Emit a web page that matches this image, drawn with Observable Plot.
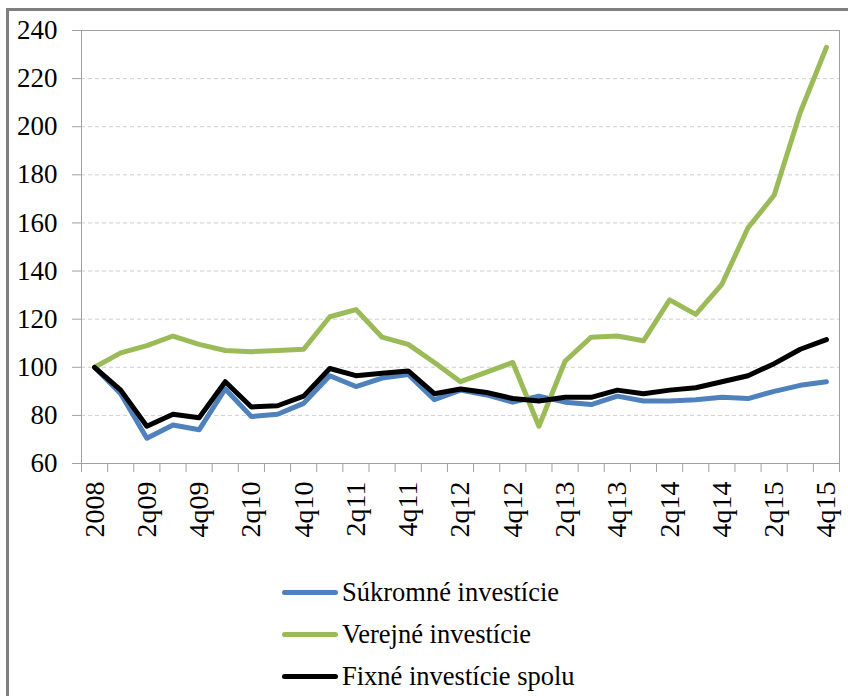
<!DOCTYPE html>
<html>
<head>
<meta charset="utf-8">
<script src="https://cdn.jsdelivr.net/npm/d3@7"></script>
<script src="https://cdn.jsdelivr.net/npm/@observablehq/plot@0.6"></script>
<style>
  html, body { margin: 0; padding: 0; background: #fff; width: 848px; height: 696px; overflow: hidden; }
  #wrap { position: relative; width: 848px; height: 696px; }
  #border { position: absolute; left: 6px; top: 8px; width: 900px; height: 800px; border: 3px solid #7f7f7f; box-sizing: border-box; }
  #chart { position: absolute; left: 0; top: 0; }
  #legend { position: absolute; left: 282px; top: 571px; font-family: "Liberation Serif", "Tinos", "DejaVu Serif", serif; font-size: 26.5px; color: #000; }
  .row { display: flex; align-items: center; height: 42px; }
  .sw { width: 56px; height: 5px; border-radius: 3px; margin-right: 4px; }
</style>
</head>
<body>
<div id="wrap">
  <div id="border"></div>
  <div id="chart"></div>
  <div id="legend"></div>
</div>
<script>
// Categories (quarters), first labelled "2008"
const quarters = ["2008","1q09","2q09","3q09","4q09","1q10","2q10","3q10","4q10","1q11","2q11","3q11","4q11","1q12","2q12","3q12","4q12","1q13","2q13","3q13","4q13","1q14","2q14","3q14","4q14","1q15","2q15","3q15","4q15"];

const seriesNames = ["Súkromné investície", "Verejné investície", "Fixné investície spolu"];
const seriesColors = ["#4f81bd", "#9bbb59", "#000000"];

const sukromne = [100, 89, 70.5, 76, 74, 91, 79.5, 80.5, 85, 96.5, 92, 95.5, 97, 86.5, 90.5, 88.5, 85.5, 88, 85.5, 84.5, 88, 86, 86, 86.5, 87.5, 87, 90, 92.5, 94];
const verejne  = [100, 106, 109, 113, 109.5, 107, 106.5, 107, 107.5, 121, 124, 112.5, 109.5, 102, 94, 98, 102, 75.5, 102.5, 112.5, 113, 111, 128, 122, 134.5, 158, 171.5, 206, 233];
const fixne    = [100, 90.5, 75.5, 80.5, 79, 94, 83.5, 84, 88, 99.5, 96.5, 97.5, 98.5, 89, 91, 89.5, 87, 86, 87.5, 87.5, 90.5, 89, 90.5, 91.5, 94, 96.5, 101.5, 107.5, 111.5];

const yTicks = [60, 80, 100, 120, 140, 160, 180, 200, 220, 240];

const allSeries = [sukromne, verejne, fixne];
const data = allSeries.flatMap((vals, s) => vals.map((v, i) => ({idx: i + 0.5, q: quarters[i], value: v, series: seriesNames[s]})));

const labelIdx = quarters.map((q, i) => i).filter(i => i % 2 === 0);

const chart = Plot.plot({
  width: 848,
  height: 570,
  marginLeft: 81,
  marginRight: 9,
  marginTop: 30,
  marginBottom: 107,
  style: { fontFamily: "'Liberation Serif', 'Tinos', 'DejaVu Serif', serif", color: "#000", background: "transparent" },
  x: { type: "linear", domain: [0, quarters.length] },
  y: { domain: [60, 240] },
  color: { domain: seriesNames, range: seriesColors },
  marks: [
    Plot.gridY(yTicks.filter(t => t > 60 && t < 240), { stroke: "#cfcfcf", strokeOpacity: 1, strokeDasharray: "4,3" }),
    Plot.frame({ stroke: "#a0a0a0" }),
    Plot.axisY(yTicks, { tickSize: 9, tickPadding: 15, stroke: "#a0a0a0", fontSize: 27, fontFamily: "Liberation Serif", label: null }),
    Plot.axisX(d3.range(0, quarters.length + 1), { tickSize: 9, tickFormat: () => "", stroke: "#a0a0a0", label: null }),
    Plot.axisX(labelIdx.map(i => i + 0.5), { tickSize: 0, tickPadding: 18, tickRotate: -90, tickFormat: d => quarters[Math.round(d - 0.5)], fontSize: 28, fontFamily: "Liberation Serif", label: null }),
    Plot.line(data, { x: "idx", y: "value", z: "series", stroke: "series", strokeWidth: 5, strokeLinejoin: "round", strokeLinecap: "round" })
  ]
});
document.getElementById("chart").appendChild(chart);

const legend = document.getElementById("legend");
seriesNames.forEach((name, s) => {
  const row = document.createElement("div");
  row.className = "row";
  const sw = document.createElement("div");
  sw.className = "sw";
  sw.style.background = seriesColors[s];
  const t = document.createElement("span");
  t.textContent = name;
  row.appendChild(sw);
  row.appendChild(t);
  legend.appendChild(row);
});
</script>
</body>
</html>
